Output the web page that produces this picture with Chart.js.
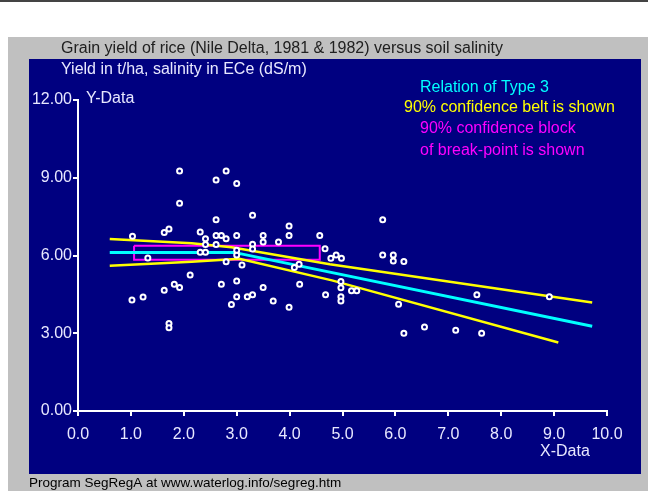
<!DOCTYPE html>
<html>
<head>
<meta charset="utf-8">
<script src="https://cdn.jsdelivr.net/npm/chart.js@4"></script>
<style>
  html, body { margin: 0; padding: 0; background: #fff; }
  #wrap { width: 648px; height: 491px; position: relative; }
</style>
</head>
<body>
<div id="wrap"><canvas id="c" width="648" height="491"></canvas></div>
<script>
// salinity (ECe, dS/m) vs rice grain yield (t/ha)
const salinity = [1.03, 1.02, 1.23, 1.32, 1.63, 1.72, 1.92, 1.92, 2.61, 2.80, 3.00, 2.61, 2.31, 2.41, 2.61,
  2.71, 2.80, 3.00, 2.41, 2.61, 2.31, 2.41, 2.80, 3.00, 3.30, 3.30, 2.12, 3.10, 3.99, 3.99, 3.50, 3.50, 3.79,
  4.57, 5.76, 4.67, 4.78, 4.88, 4.98, 5.76, 5.96, 5.96, 6.16, 4.18, 4.09, 4.97, 4.97, 4.97, 4.97, 5.17, 5.27,
  6.06, 7.54, 8.91, 6.16, 6.55, 7.14, 7.63, 1.82, 1.92, 1.63, 2.71, 3.00, 3.00, 2.90, 1.72, 1.72, 3.50, 3.20,
  3.30, 3.69, 3.99, 4.19, 4.68, 3.00, 3.30];
const yieldTha = [6.74, 4.28, 4.40, 5.90, 6.89, 7.02, 9.26, 8.02, 8.91, 9.26, 8.78, 7.38, 6.91, 6.65, 6.77,
  6.77, 6.65, 6.77, 6.42, 6.42, 6.13, 6.13, 5.76, 6.02, 7.55, 6.43, 5.25, 5.63, 7.14, 6.77, 6.77, 6.52, 6.52,
  6.77, 7.38, 6.26, 5.89, 6.02, 5.89, 6.02, 6.02, 5.79, 5.77, 5.66, 5.54, 5.00, 4.76, 4.41, 4.24, 4.64, 4.64,
  4.12, 4.49, 4.41, 3.00, 3.24, 3.12, 3.00, 4.89, 4.77, 4.66, 4.89, 5.02, 4.41, 4.11, 3.38, 3.21, 4.77, 4.41,
  4.49, 4.24, 4.00, 4.89, 4.49, 6.20, 6.25];

// segmented regression (type 3) and its 90% confidence belt
const fitX = [0.6, 2.95, 9.72];
const fitY = [6.12, 6.12, 3.27];
const upperX = [0.6, 2.15, 2.9, 4.76, 9.72];
const upperY = [6.64, 6.47, 6.32, 5.66, 4.19];
const lowerX = [0.6, 2.15, 3.05, 4.8, 9.08];
const lowerY = [5.60, 5.76, 5.87, 5.04, 2.64];

// 90% confidence block of the break-point
const boxX = [1.06, 4.57, 4.57, 1.06, 1.06];
const boxY = [6.38, 6.38, 5.84, 5.84, 6.38];

const xTicks = [0, 1, 2, 3, 4, 5, 6, 7, 8, 9, 10];
const yTicks = [0, 3, 6, 9, 12];

const pts = (xs, ys) => xs.map((x, i) => ({ x, y: ys[i] }));
const FONT = 'Arial, "Liberation Sans", sans-serif';

const backdrop = {
  id: 'backdrop',
  beforeDraw(chart) {
    const ctx = chart.ctx;
    ctx.save();
    ctx.fillStyle = '#fff';
    ctx.fillRect(0, 0, 648, 491);
    ctx.fillStyle = '#444';
    ctx.fillRect(0, 0, 648, 2);
    ctx.fillStyle = '#c0c0c0';
    ctx.fillRect(8, 37, 640, 454);
    ctx.fillStyle = '#000080';
    ctx.fillRect(29, 59, 612, 415);
    ctx.restore();
  },
  afterDraw(chart) {
    const ctx = chart.ctx;
    ctx.save();
    ctx.textBaseline = 'middle';
    ctx.font = '16px ' + FONT;
    ctx.fillStyle = '#202020';
    ctx.fillText('Grain yield of rice (Nile Delta, 1981 & 1982) versus soil salinity', 61, 49);
    ctx.fillStyle = '#e8e8ff';
    ctx.fillText('Yield in t/ha, salinity in ECe (dS/m)', 61, 70);
    ctx.fillText('Y-Data', 86, 99);
    ctx.fillText('X-Data', 540, 452);
    ctx.fillStyle = '#00ffff';
    ctx.fillText('Relation of Type 3', 420, 88);
    ctx.fillStyle = '#ffff00';
    ctx.fillText('90% confidence belt is shown', 404, 108);
    ctx.fillStyle = '#ff00ff';
    ctx.fillText('90% confidence block', 420, 129);
    ctx.fillText('of break-point is shown', 420, 151);
    ctx.font = '13.5px ' + FONT;
    ctx.fillStyle = '#000';
    ctx.fillText('Program SegRegA at www.waterlog.info/segreg.htm', 29, 483);
    ctx.restore();
  }
};

new Chart(document.getElementById('c').getContext('2d'), {
  type: 'scatter',
  data: {
    datasets: [
      { data: pts(salinity, yieldTha), pointRadius: 2.5, pointBorderWidth: 2,
        pointBorderColor: '#fff', pointBackgroundColor: '#000080', showLine: false },
      { data: pts(upperX, upperY), showLine: true, borderColor: '#ffff00', borderWidth: 2.5, pointRadius: 0 },
      { data: pts(lowerX, lowerY), showLine: true, borderColor: '#ffff00', borderWidth: 2.5, pointRadius: 0 },
      { data: pts(fitX, fitY), showLine: true, borderColor: '#00ffff', borderWidth: 3, pointRadius: 0 },
      { data: pts(boxX, boxY), showLine: true, borderColor: '#ff00ff', borderWidth: 2, pointRadius: 0 }
    ]
  },
  options: {
    responsive: false,
    animation: false,
    layout: { padding: { left: 0, top: 100, right: 41, bottom: 0 } },
    plugins: { legend: { display: false }, tooltip: { enabled: false } },
    scales: {
      x: {
        type: 'linear', min: 0, max: 10,
        afterFit: s => { s.height = 80; },
        afterBuildTicks: s => { s.ticks = xTicks.map(v => ({ value: v })); },
        grid: { drawOnChartArea: false, drawTicks: true, tickLength: 5, color: '#fff', lineWidth: 2 },
        border: { color: '#fff', width: 2 },
        ticks: { color: '#e8e8ff', font: { size: 16, family: FONT }, padding: 9, maxRotation: 0,
          callback: v => Number(v).toFixed(1) }
      },
      y: {
        type: 'linear', min: 0, max: 12,
        afterFit: s => { s.width = 78; },
        afterBuildTicks: s => { s.ticks = yTicks.map(v => ({ value: v })); },
        grid: { drawOnChartArea: false, drawTicks: true, tickLength: 5, color: '#fff', lineWidth: 2 },
        border: { color: '#fff', width: 2 },
        ticks: { color: '#e8e8ff', font: { size: 16, family: FONT }, padding: 1,
          callback: v => Number(v).toFixed(2) }
      }
    }
  },
  plugins: [backdrop]
});
</script>
</body>
</html>
